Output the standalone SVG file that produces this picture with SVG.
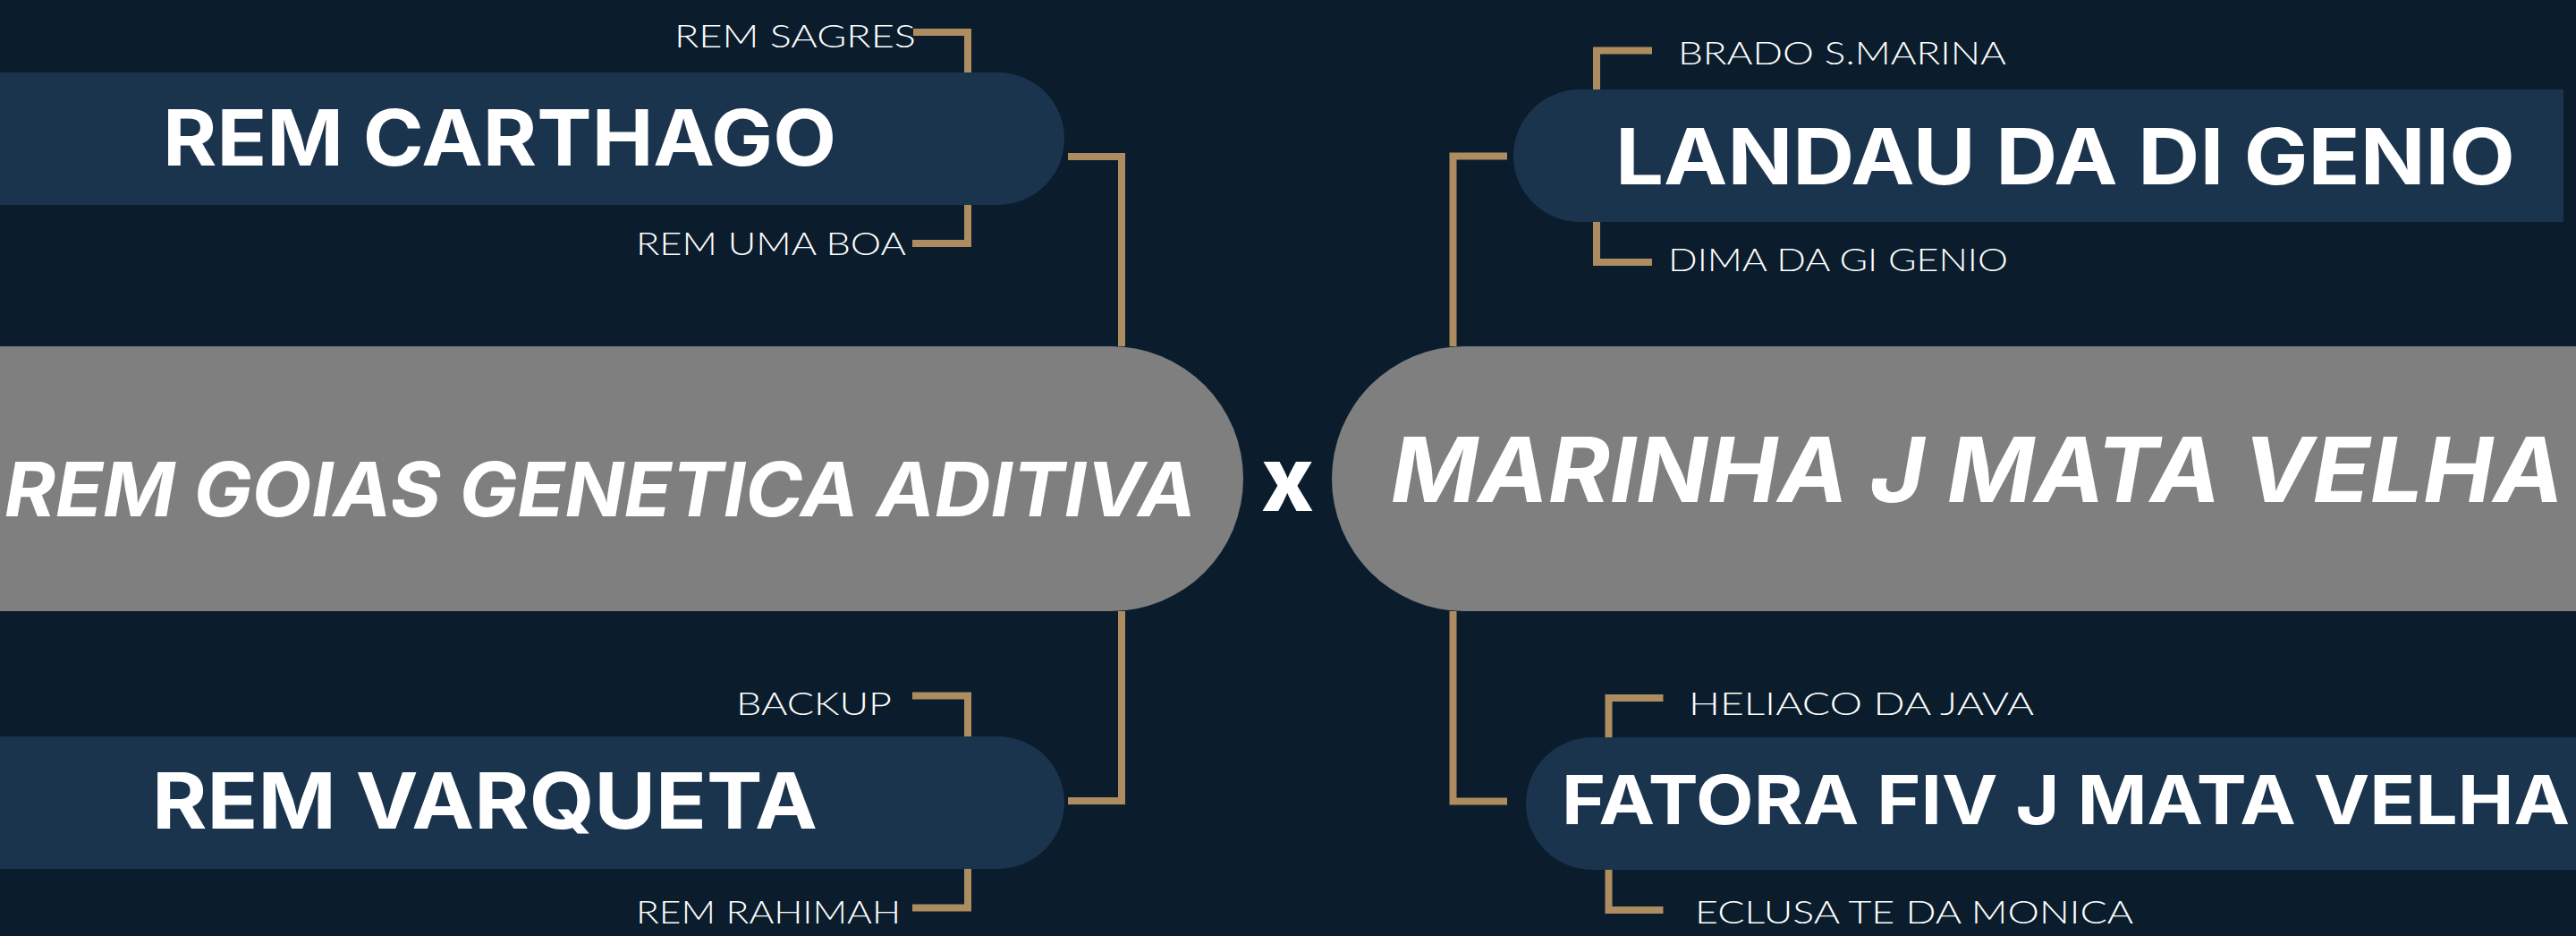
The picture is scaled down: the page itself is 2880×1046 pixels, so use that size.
<svg xmlns="http://www.w3.org/2000/svg" width="2880" height="1046" viewBox="0 0 2880 1046">
<style>
.bg{fill:#0b1d2c}
.navy{fill:#1b344e}
.grey{fill:#7f7f7f}
.con{fill:none;stroke:#ad8d5f;stroke-width:8;stroke-linejoin:miter;stroke-linecap:butt}
.t{fill:#ffffff;font-family:"Inter","Open Sans","Liberation Sans",sans-serif}
.big{font-size:86px;font-weight:700}
.main{font-weight:700;font-style:italic}
.lbl{font-size:36px;font-weight:300;font-family:"Lato","Open Sans","Liberation Sans",sans-serif}
</style>
<rect class="bg" x="0" y="0" width="2880" height="1046"/>
<g id="connectors">
<path class="con" d="M1021,36 H1082 V81"/>
<path class="con" d="M1082,229 V272 H1020"/>
<path class="con" d="M1194,175 H1254 V387"/>
<path class="con" d="M1020,777.5 H1082 V823"/>
<path class="con" d="M1082,971 V1014.5 H1020"/>
<path class="con" d="M1254,683 V895 H1194"/>
<path class="con" d="M1847,56.5 H1785 V100"/>
<path class="con" d="M1785,248 V293 H1847"/>
<path class="con" d="M1685,174.5 H1624.5 V387"/>
<path class="con" d="M1859.5,780 H1798.5 V824"/>
<path class="con" d="M1798.5,972 V1017 H1859.5"/>
<path class="con" d="M1624.5,683 V895.5 H1685"/>
</g>
<g id="rem-carthago">
<rect class="navy" x="-80" y="81" width="1270" height="148" rx="74"/>
<text class="t big" x="182" y="185" textLength="753" lengthAdjust="spacingAndGlyphs">REM CARTHAGO</text>
</g>
<g id="rem-sagres"><text class="t lbl" x="754" y="53" textLength="270" lengthAdjust="spacingAndGlyphs">REM SAGRES</text></g>
<g id="rem-uma-boa"><text class="t lbl" x="711" y="285" textLength="302" lengthAdjust="spacingAndGlyphs">REM UMA BOA</text></g>
<g id="rem-goias">
<rect class="grey" x="-200" y="387" width="1590" height="296" rx="148"/>
<text class="t main" x="5" y="577" font-size="84" textLength="1332" lengthAdjust="spacingAndGlyphs">REM GOIAS GENETICA ADITIVA</text>
</g>
<g id="cross"><text class="t" x="1410" y="571" font-size="100" font-weight="800" textLength="59" lengthAdjust="spacingAndGlyphs">x</text></g>
<g id="rem-varqueta">
<rect class="navy" x="-80" y="823" width="1270" height="148" rx="74"/>
<text class="t big" x="170" y="926" textLength="744" lengthAdjust="spacingAndGlyphs">REM VARQUETA</text>
</g>
<g id="backup"><text class="t lbl" x="823" y="799" textLength="174" lengthAdjust="spacingAndGlyphs">BACKUP</text></g>
<g id="rem-rahimah"><text class="t lbl" x="711" y="1032" textLength="296" lengthAdjust="spacingAndGlyphs">REM RAHIMAH</text></g>
<g id="landau">
<path class="navy" d="M2866,100 V248 H1766 A74,74 0 0 1 1766,100 Z"/>
<text class="t big" x="1806" y="206" textLength="1006" lengthAdjust="spacingAndGlyphs">LANDAU DA DI GENIO</text>
</g>
<g id="brado"><text class="t lbl" x="1876" y="72" textLength="367" lengthAdjust="spacingAndGlyphs">BRADO S.MARINA</text></g>
<g id="dima"><text class="t lbl" x="1865" y="303" textLength="380" lengthAdjust="spacingAndGlyphs">DIMA DA GI GENIO</text></g>
<g id="marinha">
<rect class="grey" x="1489" y="387" width="1600" height="296" rx="148"/>
<text class="t main" x="1555" y="561" font-size="100" textLength="1311" lengthAdjust="spacingAndGlyphs">MARINHA J MATA VELHA</text>
</g>
<g id="fatora">
<rect class="navy" x="1706" y="824" width="1400" height="148" rx="74"/>
<text class="t" x="1746" y="921" font-size="75" font-weight="700" textLength="1127" lengthAdjust="spacingAndGlyphs">FATORA FIV J MATA VELHA</text>
</g>
<g id="heliaco"><text class="t lbl" x="1888" y="799" textLength="386" lengthAdjust="spacingAndGlyphs">HELIACO DA JAVA</text></g>
<g id="eclusa"><text class="t lbl" x="1895" y="1032" textLength="490" lengthAdjust="spacingAndGlyphs">ECLUSA TE DA MONICA</text></g>
</svg>
